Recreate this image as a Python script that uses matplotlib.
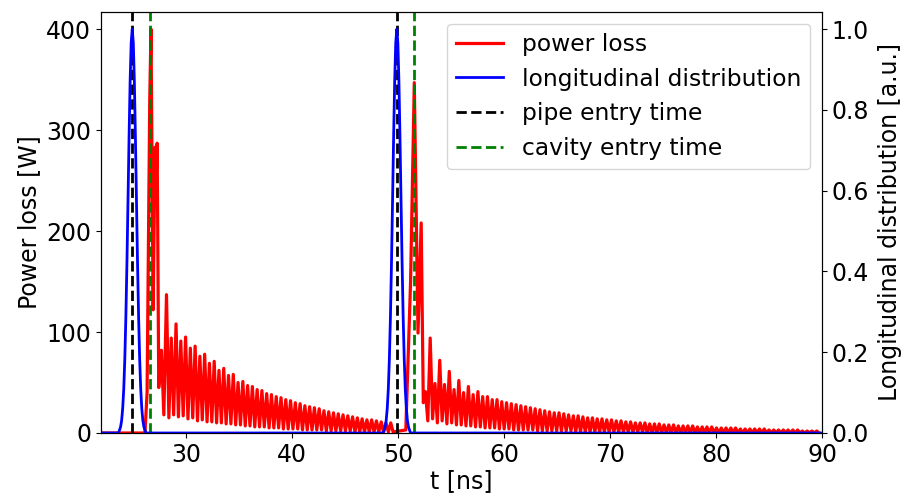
import numpy as np
import matplotlib
matplotlib.use("Agg")
import matplotlib.pyplot as plt

plt.rcParams["font.family"] = ["DejaVu Sans"]
plt.rcParams["font.size"] = 17

# Bunch passages: pipe entry and cavity entry times [ns]
pipe_entry = [24.95, 49.9]
cavity_entry = [26.6, 51.55]

# Longitudinal bunch profile (normalised), sampled around each bunch centre
profile_offset = [-1.3, -1.2, -1.1, -1.0, -0.9, -0.8, -0.7, -0.6, -0.5, -0.4, -0.3, -0.2, -0.1,
                  0.0, 0.1, 0.2, 0.3, 0.4, 0.5, 0.6, 0.7, 0.8, 0.9, 1.0, 1.1, 1.2, 1.3]
profile_value = [0.0, 0.007, 0.015, 0.031, 0.061, 0.109, 0.184, 0.288, 0.421, 0.575, 0.732, 0.871, 0.966,
                 1.0, 0.966, 0.871, 0.732, 0.575, 0.421, 0.288, 0.184, 0.109, 0.061, 0.031, 0.015, 0.007, 0.0]

# Power loss: first bunch wake onset (time [ns], power [W])
head1_t = [22.0, 26.15, 26.35, 26.6, 26.72, 26.92, 27.1, 27.2, 27.3, 27.45, 27.7, 27.93]
head1_p = [0.0, 0.0, 40, 330, 400, 122, 283, 250, 287, 45, 82, 18]

# Ringing after the first bunch: successive maxima and the minima following them
ring1_start, ring_step = 28.18, 0.45
ring1_max = [137, 94, 108, 91, 95, 84, 86, 76, 78, 69, 71, 62, 64, 57, 58, 50, 51, 47, 46, 43,
             42, 39, 38, 36, 35, 33, 32, 30, 29, 27, 26, 25, 24, 22, 21, 20, 19, 18, 17, 16,
             15, 14, 13, 13, 12, 11, 10, 10]
ring1_min = [15, 18, 16, 17, 14, 15, 12, 13, 11, 11, 10, 10, 9, 9, 8, 8, 7, 7, 6, 6,
             6, 5, 5, 5, 4, 4, 4, 4, 3, 3, 3, 3, 3, 2, 2, 2, 2, 2, 2, 1,
             1, 1, 1, 1, 1, 1, 1, 1]

# Second bunch wake onset
head2_t = [50.75, 51.2, 51.55, 51.9, 52.2, 52.4]
head2_p = [3, 150, 347, 99, 208, 30]

# Ringing after the second bunch
ring2_start = 52.6
ring2_max = [41, 94, 49, 72, 48, 61, 43, 52, 40, 46, 38, 41, 36, 36, 33, 33, 31, 30, 29, 28,
             27, 26, 25, 24, 23, 22, 21, 20, 20, 19, 18, 17, 17, 16, 15, 15, 14, 14, 13, 13,
             12, 12, 11, 11, 10, 10, 10, 9, 9, 9, 8, 8, 8, 7, 7, 7, 7, 6, 6, 6,
             6, 5, 5, 5, 5, 5, 4, 4, 4, 4, 4, 4, 3, 3, 3, 3, 3, 3, 3, 2,
             2, 2, 2]
ring2_min = [12, 14, 10, 12, 9, 10, 8, 8, 7, 7, 6, 6, 5, 5, 5, 4, 4, 4, 3, 3,
             3, 3, 3, 2, 2, 2, 2, 2, 2, 2, 2, 1, 1, 1, 1, 1, 1, 1, 1, 1,
             1, 1, 1, 1, 1, 1, 0, 0, 0, 0, 0, 0, 0, 0, 0, 0, 0, 0, 0, 0,
             0, 0, 0, 0, 0, 0, 0, 0, 0, 0, 0, 0, 0, 0, 0, 0, 0, 0, 0, 0,
             0, 0, 0]


def ringing(start, step, maxima, minima):
    t, p = [], []
    for k, (hi, lo) in enumerate(zip(maxima, minima)):
        t += [start + k * step, start + k * step + step / 2]
        p += [hi, lo]
    return t, p


r1_t, r1_p = ringing(ring1_start, ring_step, ring1_max, ring1_min)
r2_t, r2_p = ringing(ring2_start, ring_step, ring2_max, ring2_min)
power_t = np.array(head1_t + r1_t + head2_t + r2_t)
power_p = np.array(head1_p + r1_p + head2_p + r2_p, dtype=float)
keep = power_t <= 90
power_t, power_p = power_t[keep], power_p[keep]

dist_t = [22.0]
dist_v = [0.0]
for c in pipe_entry:
    dist_t += [c + o for o in profile_offset]
    dist_v += profile_value
dist_t.append(90.0)
dist_v.append(0.0)

fig = plt.figure(figsize=(9.03, 4.97), dpi=100)
ax = fig.add_axes([0.1118, 0.1288, 0.7985, 0.8471])
ax2 = ax.twinx()

l1, = ax.plot(power_t, power_p, color="red", lw=2.3, label="power loss")
l2, = ax2.plot(dist_t, dist_v, color="blue", lw=2, label="longitudinal distribution")
for t in pipe_entry:
    l3 = ax.axvline(t, color="black", ls="--", lw=2, label="pipe entry time")
for t in cavity_entry:
    l4 = ax.axvline(t, color="green", ls="--", lw=2, label="cavity entry time")

ax.set_xlim(22, 90)
ax.set_ylim(0, 417)
ax2.set_ylim(0, 417 / 400)
ax.set_yticks([0, 100, 200, 300, 400])
ax2.set_yticks([0.0, 0.2, 0.4, 0.6, 0.8, 1.0])
ax.set_xticks([30, 40, 50, 60, 70, 80, 90])
ax.set_xlabel("t [ns]", labelpad=2)
ax.set_ylabel("Power loss [W]")
ax2.set_ylabel("Longitudinal distribution [a.u.]", labelpad=6)

ax2.legend([l1, l2, l3, l4],
           ["power loss", "longitudinal distribution", "pipe entry time", "cavity entry time"],
           loc="upper right", fontsize=16.8)

fig.savefig("out.png", dpi=100)
